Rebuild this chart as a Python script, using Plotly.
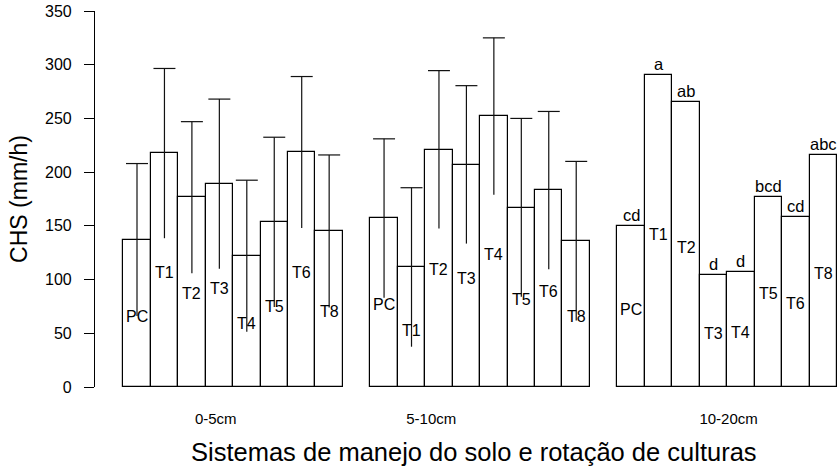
import plotly.graph_objects as go

groups = ["0-5cm", "5-10cm", "10-20cm"]
treatments = ["PC", "T1", "T2", "T3", "T4", "T5", "T6", "T8"]

mean_0_5 = [137, 217.5, 176.5, 189, 122, 153.5, 218.5, 145]
sd_0_5 = [71, 79, 70.5, 79, 70.5, 79, 70.5, 71]
mean_5_10 = [157, 111.5, 221, 207, 252, 167, 183, 136]
sd_5_10 = [74, 74, 73.5, 73.5, 73, 83, 73.5, 74]
mean_10_20 = [149.5, 290, 265, 104, 107, 176.5, 158, 215.5]
letters_10_20 = ["cd", "a", "ab", "d", "d", "bcd", "cd", "abc"]

label_y_0_5 = [66, 107, 87, 92, 59, 75, 107, 70]
label_y_5_10 = [77, 53, 109, 101, 123, 81, 89, 66]
label_y_10_20 = [72, 142, 130, 50, 51, 87, 77.5, 105.5]

group_label_x = [2.87, 10.72, 21.55]

FONT = "Liberation Sans, Arial, sans-serif"

means = [mean_0_5, mean_5_10, mean_10_20]
sds = [sd_0_5, sd_5_10, None]
label_ys = [label_y_0_5, label_y_5_10, label_y_10_20]

fig = go.Figure()
annotations = []
for g, name in enumerate(groups):
    xs = [g * 9 + i for i in range(len(treatments))]
    sd = sds[g]
    fig.add_trace(go.Bar(
        x=xs, y=means[g], width=1,
        marker=dict(color="white", line=dict(color="black", width=1.2)),
        showlegend=False, hoverinfo="y",
    ))
    if sd is not None:
        # vertical error line (mean +/- sd), no caps
        fig.add_trace(go.Scatter(
            x=xs, y=means[g], mode="markers", marker=dict(size=1, opacity=0),
            error_y=dict(type="data", symmetric=True, array=sd,
                         color="#111111", thickness=1.2, width=0, visible=True),
            showlegend=False, hoverinfo="skip",
        ))
        # cap only at the top end
        tops = [m + s for m, s in zip(means[g], sd)]
        fig.add_trace(go.Scatter(
            x=xs, y=tops, mode="markers",
            marker=dict(symbol="line-ew", size=15.7, color="#111111",
                        line=dict(color="#111111", width=1.2)),
            showlegend=False, hoverinfo="skip",
        ))
    for i, t in enumerate(treatments):
        annotations.append(dict(x=xs[i], y=label_ys[g][i], text=t, showarrow=False,
                                xref="x", yref="y", font=dict(size=16, color="black", family=FONT)))
    if g == 2:
        for i, lt in enumerate(letters_10_20):
            annotations.append(dict(x=xs[i], y=means[g][i], text=lt, showarrow=False,
                                    xref="x", yref="y", yanchor="bottom", yshift=0,
                                    font=dict(size=16.5, color="black", family=FONT)))

annotations.append(dict(text="Sistemas de manejo do solo e rotação de culturas",
                        x=0.511, y=-0.172, xref="paper", yref="paper",
                        xanchor="center", yanchor="middle", showarrow=False,
                        font=dict(size=25.5, family=FONT, color="black")))

fig.update_layout(
    width=840, height=467,
    margin=dict(l=95, r=3, t=11, b=80),
    plot_bgcolor="white", paper_bgcolor="white",
    font=dict(family=FONT, color="black"),
    bargap=0,
    annotations=annotations,
    xaxis=dict(range=[-1.53, 25.5], showgrid=False, zeroline=False, showline=False,
               tickmode="array", tickvals=group_label_x, ticktext=groups,
               ticks="", ticklabelstandoff=21,
               tickfont=dict(size=15, family=FONT, color="black")),
    yaxis=dict(range=[0, 350], showgrid=False, zeroline=False, showline=True,
               linecolor="black", linewidth=1.2, ticks="outside", ticklen=10,
               tickcolor="black", tickwidth=1.2, dtick=50, ticklabelstandoff=9,
               tickfont=dict(size=16, family=FONT, color="black"),
               title=dict(text="CHS (mm/h)", font=dict(size=23, family=FONT, color="black"),
                          standoff=10)),
)

fig.write_html("out.html")
